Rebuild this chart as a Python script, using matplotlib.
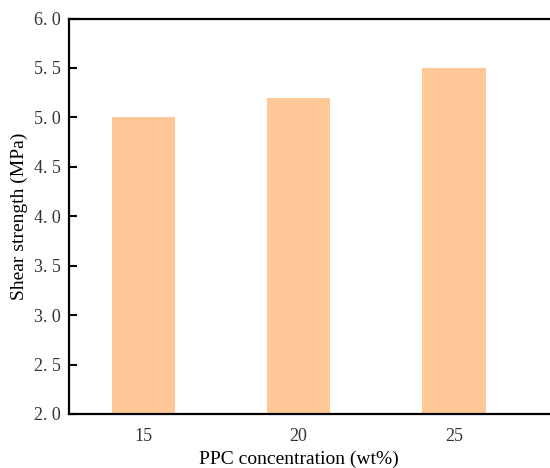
import numpy as np
import matplotlib
matplotlib.use('Agg')
import matplotlib.pyplot as plt

# data
concentrations = ['15', '20', '25']
shear_strength = [5.0, 5.2, 5.5]
ytick_values = [2.0, 2.5, 3.0, 3.5, 4.0, 4.5, 5.0, 5.5, 6.0]
ytick_labels = ['2. 0', '2. 5', '3. 0', '3. 5', '4. 0', '4. 5', '5. 0', '5. 5', '6. 0']

plt.rcParams['font.family'] = ['Liberation Serif', 'DejaVu Serif']

fig = plt.figure(figsize=(5.5, 4.68), dpi=100)
ax_h = 395.5
ax = fig.add_axes([69/550, 54/468, 1.0 - 69/550, ax_h/468])

xpos = np.arange(len(concentrations))
ax.bar(xpos, shear_strength, width=0.41, color='#FFC896', edgecolor='none', zorder=2)

ax.set_xlim(-0.48, 2.62)
ax.set_ylim(2.0, 6.0)
ax.set_xticks(xpos)
ax.set_xticklabels(concentrations)
ax.set_yticks(ytick_values)
ax.set_yticklabels(ytick_labels)

ax.tick_params(axis='y', direction='in', length=6, width=1.5, pad=6, labelsize=13, labelcolor='#333333')
ax.tick_params(axis='x', length=0, pad=10, labelsize=13, labelcolor='#333333')

for side in ['left', 'bottom', 'top']:
    ax.spines[side].set_linewidth(1.6)
ax.spines['right'].set_visible(False)

ax.set_xlabel('PPC concentration (wt%)', fontsize=14)
ax.set_ylabel('Shear strength (MPa)', fontsize=14)
ax.xaxis.set_label_coords((1 + 0.48) / 3.1, -37/ax_h)
ax.yaxis.set_label_coords(-41/481, 0.5)

fig.savefig('out.png', dpi=100)
